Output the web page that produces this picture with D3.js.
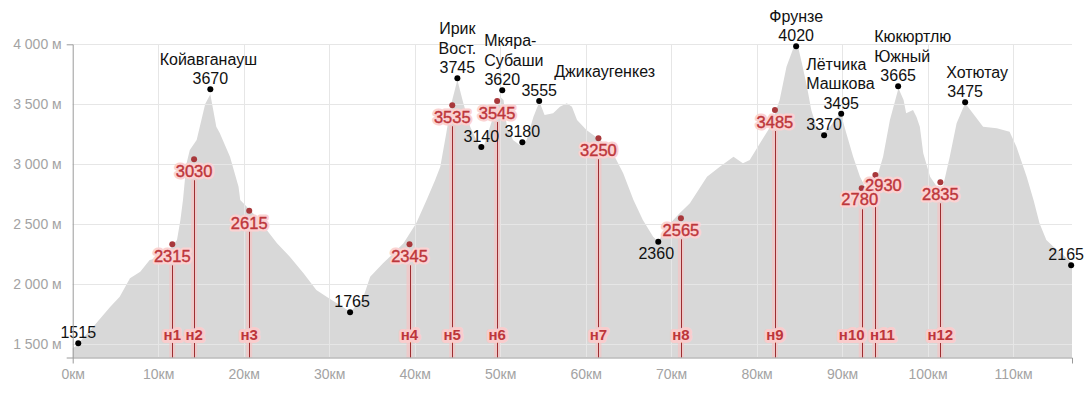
<!DOCTYPE html>
<html>
<head>
<meta charset="utf-8">
<script src="https://cdn.jsdelivr.net/npm/d3@7"></script>
<style>
body { margin: 0; background: #fff; font-family: "Liberation Sans", Arial, sans-serif; }
.tick text { fill: #a3a3a3; font-size: 14px; font-family: "Liberation Sans", Arial, sans-serif; }
.domain { stroke: #9a9a9a; }
.grid line { stroke: #e6e6e6; stroke-width: 1; }
.pass { fill: #111; font-size: 16px; }
.camp-halo { fill: #fbd2d2; font-size: 16.5px; stroke: #fbd2d2; stroke-width: 5px; stroke-linejoin: round; }
.camp-h { fill: #bd363b; font-size: 16.5px; stroke: #bd363b; stroke-width: 0.4px; }
.camp-n { fill: #bd363b; font-size: 15px; font-weight: bold; paint-order: stroke; stroke: #f9cccc; stroke-width: 6px; stroke-linejoin: round; }
</style>
</head>
<body>
<div id="chart"></div>
<script>
// elevation profile of the route (km from start, altitude m)
var profileKm = [0, 0.3, 2.4, 4.4, 5.5, 6.7, 7.9, 9.0, 10.6, 12.2, 12.6, 12.9, 13.3, 13.7, 14.5, 15.5, 16.1, 16.8, 17.2, 18.4,
  19.4, 19.6, 21.1, 22.7, 23.9, 25.4, 27.0, 28.5, 29.7, 30.9, 32.5, 34.0, 34.8, 36.3, 37.1, 38.7, 40.2, 41.4, 42.4, 43.0,
  43.7, 44.3, 45.0, 45.7, 46.5, 47.4, 48.0, 49.2, 50.0, 50.4, 50.8, 51.5, 52.3, 53.1, 53.9, 54.6, 55.2, 56.2, 57.0, 57.8,
  58.4, 59.0, 60.1, 61.7, 63.2, 64.4, 65.6, 66.7, 67.9, 68.5, 69.5, 71.0, 72.2, 74.2, 75.7, 77.3, 78.4, 79.2, 80.4, 81.6,
  82.7, 83.5, 84.3, 84.9, 85.3, 85.9, 86.4, 87.0, 87.8, 88.6, 89.4, 89.9, 90.5, 91.3, 92.1, 92.9, 94.0, 94.8, 95.6, 96.6,
  97.2, 97.5, 98.3, 98.7, 99.1, 99.5, 100.3, 101.1, 101.8, 102.6, 103.4, 104.4, 105.3, 106.5, 108.1, 109.6, 110.4, 111.6, 112.4, 113.1,
  113.9, 114.7, 116.3, 116.9]
var profileAlt = [1470, 1480, 1647, 1813, 1897, 2050, 2105, 2203, 2230, 2369, 2536, 2703, 3003, 3119, 3203, 3503, 3583, 3313, 3261, 3063,
  2813, 2703, 2592, 2453, 2342, 2230, 2092, 1953, 1897, 1842, 1770, 1895, 2063, 2175, 2230, 2342, 2510, 2703, 2869, 2980,
  3258, 3508, 3703, 3508, 3313, 3175, 3133, 3397, 3563, 3536, 3313, 3203, 3161, 3203, 3397, 3522, 3411, 3425, 3480, 3508,
  3480, 3369, 3286, 3203, 3092, 2925, 2703, 2536, 2397, 2355, 2480, 2592, 2675, 2897, 2980, 3063, 3008, 3036, 3175, 3313,
  3536, 3813, 3967, 3967, 3842, 3647, 3453, 3313, 3258, 3313, 3397, 3411, 3258, 3063, 2897, 2786, 2869, 3063, 3369, 3633,
  3536, 3425, 3453, 3397, 3313, 3092, 2897, 2813, 2813, 3063, 3342, 3508, 3425, 3313, 3300, 3272, 3147, 2897, 2703, 2508,
  2369, 2314, 2217, 2175]

// passes and low points: name lines split by '|', labelled height, position on profile
var passNames  = ['', 'Койавганауш', '', 'Ирик|Вост.', 'Мкяра-|Субаши', '', '', 'Джикаугенкез', '', 'Фрунзе', '', 'Лётчика|Машкова', 'Кюкюртлю|Южный', 'Хотютау', '']
var passHeight = [1515, 3670, 1765, 3745, 3620, 3140, 3180, 3555, 2360, 4020, 3370, 3495, 3665, 3475, 2165]
var passKm     = [0.65, 16.1, 32.45, 45.0, 50.25, 47.8, 52.6, 54.57, 68.5, 84.63, 87.9, 89.9, 96.56, 104.4, 116.8]
var passAlt    = [1508, 3625, 1767, 3717, 3617, 3144, 3183, 3527, 2355, 3983, 3242, 3422, 3650, 3517, 2158]

// camps (н = ночёвка)
var campNames  = ['н1', 'н2', 'н3', 'н4', 'н5', 'н6', 'н7', 'н8', 'н9', 'н10', 'н11', 'н12']
var campHeight = [2315, 3030, 2615, 2345, 3535, 3545, 3250, 2565, 3485, 2780, 2930, 2835]
var campKm     = [11.65, 14.2, 20.65, 39.4, 44.4, 49.65, 61.5, 71.15, 82.15, 92.3, 93.9, 101.5]
var campAlt    = [2333, 3042, 2613, 2333, 3492, 3527, 3217, 2550, 3452, 2800, 2911, 2850]

var xTicks = [0, 10, 20, 30, 40, 50, 60, 70, 80, 90, 100, 110]
var yTicks = [1500, 2000, 2500, 3000, 3500, 4000]

// label placement tweaks (not data)
var nameLayout = {
	'Койавганауш': {anchor: 'middle', dx: -2},
	'Мкяра-|Субаши': {anchor: 'start', dx: -18},
	'Джикаугенкез': {anchor: 'start', dx: 15},
	'Лётчика|Машкова': {anchor: 'start', dx: -35},
	'Кюкюртлю|Южный': {anchor: 'start', dx: -24},
	'Хотютау': {anchor: 'start', dx: -19}
}
var numberNudge = {1765: {dx: 2, dy: -5}, 2165: {dx: -5, dy: -5}, 2360: {dx: -2, dy: 17}}
var campNudge = {'н10': -10, 'н11': 7}
var campHNudge = {2930: {dx: 8, dy: 16}, 2780: {dx: -2, dy: 17}}

var width = 1091,
	height = 398,
	lineH = 19.5

var x = d3.scaleLinear().domain([0, 116.9]).range([72.7, 1072])
var y = d3.scaleLinear().domain([1390, 4000]).range([357.5, 44.3])

var svg = d3.select('#chart').append('svg')
	.attr('width', width)
	.attr('height', height)

var profile = profileKm.map(function(k, i) { return {km: k, alt: profileAlt[i]} })

svg.append('path')
	.datum(profile)
	.attr('fill', '#d8d8d8')
	.attr('d', d3.area()
		.x(function(d) { return x(d.km) })
		.y0(y.range()[0])
		.y1(function(d) { return y(d.alt) }))

// grid on top of the profile
var grid = svg.append('g').classed('grid', true)
grid.selectAll('line.h').data(yTicks).enter().append('line')
	.attr('x1', x.range()[0]).attr('x2', x.range()[1])
	.attr('y1', function(d) { return Math.round(y(d)) + 0.5 })
	.attr('y2', function(d) { return Math.round(y(d)) + 0.5 })
grid.selectAll('line.v').data(xTicks.slice(1)).enter().append('line')
	.attr('y1', y.range()[1]).attr('y2', y.range()[0])
	.attr('x1', function(d) { return Math.round(x(d)) + 0.5 })
	.attr('x2', function(d) { return Math.round(x(d)) + 0.5 })

var camps = campNames.map(function(n, i) {
	return {name: n, h: campHeight[i], km: campKm[i], alt: campAlt[i]}
})

// camp lines: pink band + dark red line
svg.selectAll('line.band').data(camps).enter().append('line')
	.attr('x1', function(d) { return x(d.km) })
	.attr('x2', function(d) { return x(d.km) })
	.attr('y1', function(d) { return y(d.alt) + 20 })
	.attr('y2', y.range()[0])
	.attr('stroke', '#f7c4c4')
	.attr('stroke-opacity', 0.7)
	.attr('stroke-width', 6)

svg.selectAll('line.camp').data(camps).enter().append('line')
	.attr('x1', function(d) { return Math.round(x(d.km)) + 0.5 })
	.attr('x2', function(d) { return Math.round(x(d.km)) + 0.5 })
	.attr('y1', function(d) { return y(d.alt) + 21 })
	.attr('y2', y.range()[0])
	.attr('stroke', '#9c2e31')
	.attr('stroke-width', 1)

// passes
var passes = passNames.map(function(n, i) {
	return {name: n, h: passHeight[i], km: passKm[i], alt: passAlt[i]}
})

svg.selectAll('circle.pass').data(passes).enter().append('circle')
	.attr('cx', function(d) { return x(d.km) })
	.attr('cy', function(d) { return y(d.alt) })
	.attr('r', 3)
	.attr('fill', '#000')

var pg = svg.selectAll('g.pass').data(passes).enter().append('g')
	.attr('transform', function(d) { return 'translate(' + x(d.km) + ',' + y(d.alt) + ')' })

pg.append('text')
	.classed('pass', true)
	.attr('text-anchor', 'middle')
	.attr('x', function(d) { return numberNudge[d.h] ? numberNudge[d.h].dx : 0 })
	.attr('y', function(d) { return numberNudge[d.h] ? numberNudge[d.h].dy : -5 })
	.text(function(d) { return d.h })

pg.each(function(d) {
	if (!d.name) return
	var lines = d.name.split('|')
	var lay = nameLayout[d.name] || {anchor: 'middle', dx: 0}
	d3.select(this).selectAll('text.name').data(lines).enter().append('text')
		.classed('pass', true)
		.attr('text-anchor', lay.anchor)
		.attr('x', lay.dx)
		.attr('y', function(l, i) { return -5 - lineH * (lines.length - i) })
		.text(function(l) { return l })
})

// camp markers (reverse order so the left label stays on top)
var campsRev = camps.slice().reverse()

svg.selectAll('circle.camp').data(campsRev).enter().append('circle')
	.attr('cx', function(d) { return x(d.km) })
	.attr('cy', function(d) { return y(d.alt) })
	.attr('r', 3)
	.attr('fill', '#a8383b')

var ch = svg.selectAll('g.camp-h').data(campsRev).enter().append('g')
	.attr('transform', function(d) {
		var n = campHNudge[d.h] || {dx: 0, dy: 18}
		return 'translate(' + (x(d.km) + n.dx) + ',' + (y(d.alt) + n.dy) + ')'
	})
ch.append('text').classed('camp-halo', true)
	.attr('text-anchor', 'middle')
	.text(function(d) { return d.h })
ch.append('text').classed('camp-h', true)
	.attr('text-anchor', 'middle')
	.text(function(d) { return d.h })

svg.selectAll('text.camp-n').data(camps).enter().append('text')
	.classed('camp-n', true)
	.attr('text-anchor', 'middle')
	.attr('x', function(d) { return x(d.km) + (campNudge[d.name] || 0) })
	.attr('y', 340)
	.text(function(d) { return d.name })

// axes
svg.append('g')
	.attr('transform', 'translate(' + x.range()[0] + ',0)')
	.call(d3.axisLeft(y)
		.tickValues(yTicks)
		.tickSizeInner(0)
		.tickSizeOuter(6)
		.tickPadding(11)
		.tickFormat(function(d) { return d3.format(',')(d).replace(',', ' ') + ' м' }))

svg.append('g')
	.attr('transform', 'translate(0,' + y.range()[0] + ')')
	.call(d3.axisBottom(x)
		.tickValues(xTicks)
		.tickSizeInner(0)
		.tickSizeOuter(6)
		.tickPadding(12)
		.tickFormat(function(d) { return d + 'км' }))

svg.selectAll('.tick line').remove()
</script>
</body>
</html>
